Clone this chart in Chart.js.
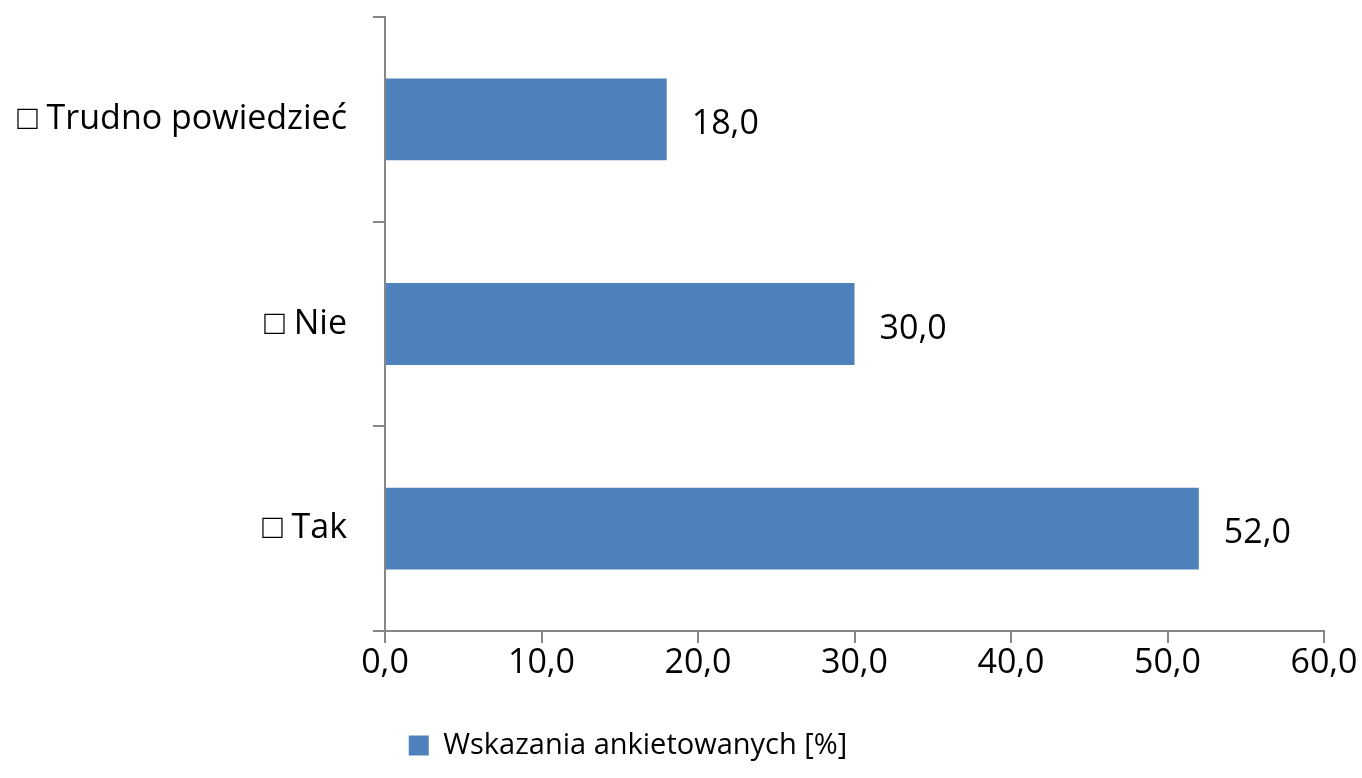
<!DOCTYPE html>
<html>
<head>
<meta charset="utf-8">
<script src="https://cdn.jsdelivr.net/npm/chart.js@4/dist/chart.umd.min.js"></script>
<style>
    html, body { margin: 0; padding: 0; background: #fff; }
    #wrap { width: 1362px; height: 778px; }
</style>
</head>
<body>
<div id="wrap"><canvas id="myChart"></canvas></div>
<script>
// data
const categories = ['\u25A1 Trudno powiedzieć', '\u25A1 Nie', '\u25A1 Tak'];
const values = [18.0, 30.0, 52.0];
const seriesName = 'Wskazania ankietowanych [%]';
const xTicks = [0, 10, 20, 30, 40, 50, 60];

const axisColor = '#878787';
const barColor = '#4F81BD';
const fontFamily = "'Open Sans', sans-serif";

const fmt = (v) => Number(v).toFixed(1).replace('.', ',');

// value labels at the bar ends
const valueLabels = {
    id: 'valueLabels',
    afterDatasetsDraw(chart) {
        const ctx = chart.ctx;
        const meta = chart.getDatasetMeta(0);
        ctx.save();
        ctx.font = '34px ' + fontFamily;
        ctx.fillStyle = '#000';
        ctx.textAlign = 'left';
        ctx.textBaseline = 'middle';
        meta.data.forEach((bar, i) => {
            ctx.fillText(fmt(values[i]), bar.x + 25, bar.y + 5);
        });
        ctx.restore();
    }
};

// legend sits left of canvas centre in the original
const legendShift = {
    id: 'legendShift',
    afterLayout(chart) {
        chart.legend.left -= 34;
        chart.legend.right -= 34;
    }
};

const ctx = document.getElementById('myChart').getContext('2d');

const myChart = new Chart(ctx, {
    type: 'bar',
    data: {
        labels: categories,
        datasets: [{
            label: seriesName,
            data: values,
            backgroundColor: barColor,
            barPercentage: 0.4,
            categoryPercentage: 1.0,
        }],
    },
    options: {
        indexAxis: 'y',
        responsive: true,
        maintainAspectRatio: false,
        animation: false,
        layout: {
            padding: { top: 17, right: 38, bottom: 8, left: 0 }
        },
        scales: {
            x: {
                min: 0,
                max: 60,
                afterBuildTicks: (scale) => {
                    scale.ticks = xTicks.map(v => ({ value: v }));
                },
                afterFit: (scale) => { scale.height = 90; },
                grid: {
                    drawOnChartArea: false,
                    drawTicks: true,
                    tickLength: 12,
                    color: axisColor,
                    lineWidth: 2,
                },
                border: { color: axisColor, width: 2 },
                ticks: {
                    padding: 0,
                    color: '#000',
                    font: { family: fontFamily, size: 34 },
                    callback: (v) => fmt(v),
                },
            },
            y: {
                afterFit: (scale) => {
                    scale.width = 385;
                    scale.paddingTop = 0;
                    scale.paddingBottom = 0;
                },
                grid: {
                    drawOnChartArea: false,
                    drawTicks: true,
                    tickLength: 12,
                    color: axisColor,
                    lineWidth: 2,
                },
                border: { color: axisColor, width: 2 },
                ticks: {
                    padding: 26,
                    color: '#000',
                    font: { family: fontFamily, size: 34 },
                },
            },
        },
        plugins: {
            tooltip: { enabled: false },
            legend: {
                position: 'bottom',
                labels: {
                    color: '#000',
                    boxWidth: 20,
                    boxHeight: 20,
                    padding: 10,
                    font: { family: fontFamily, size: 29 },
                },
            },
        },
    },
    plugins: [valueLabels, legendShift],
});
</script>
</body>
</html>
